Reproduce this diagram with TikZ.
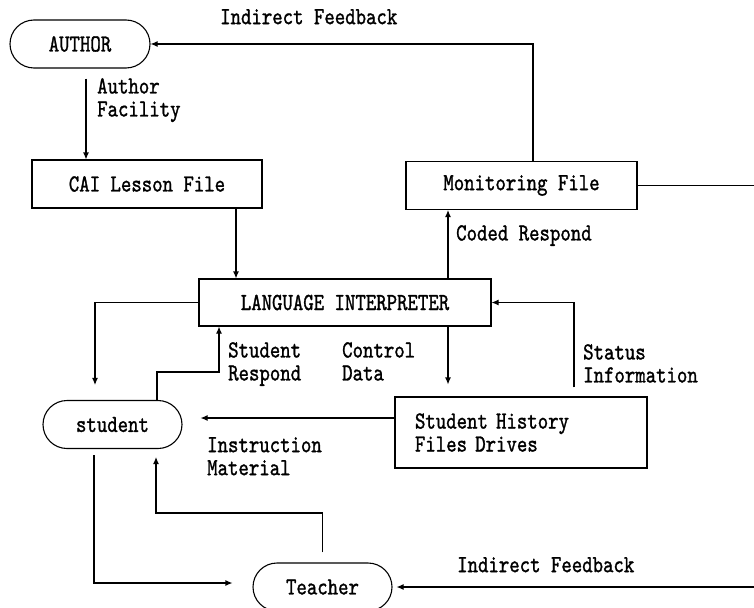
\documentclass[tikz,border=0pt]{standalone}
\usepackage{fontspec}
\newfontfamily\typewriter{lmmono10-regular.otf}[FakeStretch=0.81, FakeBold=1.2]
\usetikzlibrary{arrows.meta}
\tikzset{
  box/.style={draw, line width=1.1pt, minimum height=48pt, inner sep=0pt},
  capsule/.style={box, rounded corners=24pt},
  lbl/.style={anchor=north west, inner sep=0pt, align=left},
  flow/.style={line width=1.1pt, -{Latex[length=7pt,width=6pt]}},
  wire/.style={line width=1.1pt},
}
\begin{document}
\begin{tikzpicture}[x=1pt, y=-1pt, font=\typewriter\fontsize{24.5}{23}\selectfont]
  \useasboundingbox (0,0) rectangle (754,607);
  %Caixas
  \node[capsule, minimum width=140pt] (author) at (80,44) {AUTHOR};
  \node[box, minimum width=230pt] (cai) at (147,184) {CAI Lesson File};
  \node[box, minimum width=231pt] (monitor) at (521.5,185.5) {Monitoring File};
  \node[box, minimum width=292pt, minimum height=47pt] (interp) at (345,302.5) {LANGUAGE INTERPRETER};
  \node[capsule, minimum width=139pt] (student) at (112.5,424.5) {student};
  \node[box, text width=212pt, inner xsep=20pt, minimum height=71pt, align=left] (history) at (521,432.5) {Student History\\Files Drives};
  \node[capsule, minimum width=139pt] (teacher) at (322.5,587) {Teacher};
  %Pontos auxiliares
  \coordinate (rt) at (754,0); %borda direita
  \coordinate (sr) at (219,372); %dobra student respond
  \coordinate (tr) at (156,513); %dobra teacher
  %Rotulos
  \node[lbl] (fbtop) at (220,9) {Indirect Feedback};
  \node[lbl] (facility) at (97,78) {Author\\Facility};
  \node[lbl] (coded) at (456,225) {Coded Respond};
  \node[lbl] (sresp) at (228,342) {Student\\Respond};
  \node[lbl] (control) at (342,342) {Control\\Data};
  \node[lbl] (status) at (583,344) {Status\\Information};
  \node[lbl] (instr) at (207,437) {Instruction\\Material};
  \node[lbl] (fbbot) at (457,557) {Indirect Feedback};
  %Setas
  \draw[flow] ([xshift=11.5pt]monitor.north) |- (author.east); %feedback autor
  \draw[flow, shorten <=10pt] ([xshift=6pt]author.south) -- ([xshift=6pt]author.south |- cai.north); %author facility
  \draw[flow] ([xshift=89pt]cai.south) -- ([xshift=89pt]cai.south |- interp.north); %licao
  \draw[flow] ([xshift=103pt]interp.north) -- ([xshift=103pt]interp.north |- monitor.south); %coded respond
  \draw[flow, shorten >=15pt] (interp.west) -| ([xshift=-17.5pt]student.north); %para student
  \draw[flow] ([xshift=44.5pt]student.north) |- (sr) -- (sr |- interp.south); %student respond
  \draw[flow, shorten >=12pt] ([xshift=103pt]interp.south) -- ([xshift=103pt]interp.south |- history.north); %control data
  \draw[flow, shorten <=9pt] ([xshift=53pt]history.north) |- (interp.east); %status
  \draw[flow, shorten >=18pt] ([yshift=14.5pt]history.west) -- ([yshift=14.5pt]history.west -| student.east); %instruction
  \draw[flow, shorten <=6pt, shorten >=20pt] ([xshift=-18.5pt]student.south) |- ([yshift=4pt]teacher.west); %para teacher
  \draw[flow, shorten <=10pt, shorten >=8pt] (teacher.north) |- (tr) -- (tr |- student.south); %teacher para student
  \draw[wire] (monitor.east) -- (monitor.east -| rt); %saida monitoring
  \draw[flow, shorten >=4pt] (teacher.east -| rt) -- (teacher.east); %feedback teacher
\end{tikzpicture}
\end{document}
